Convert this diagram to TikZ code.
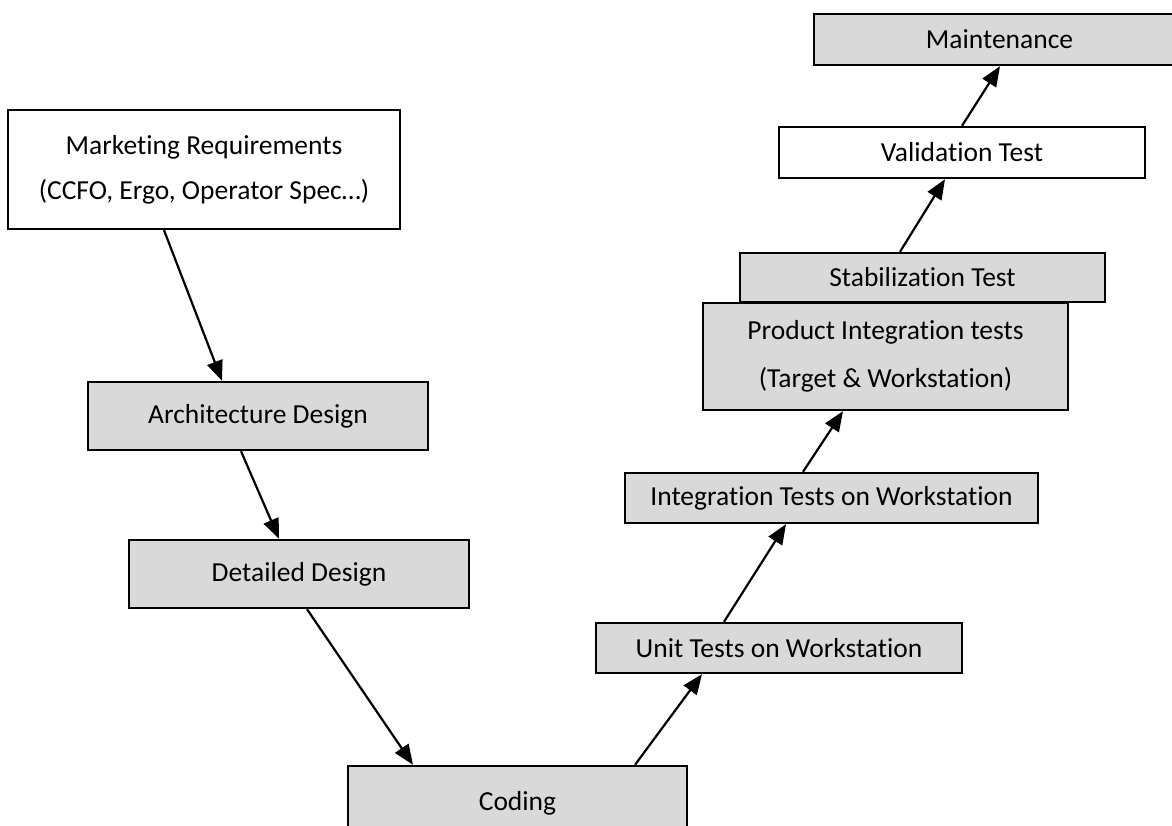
\documentclass[tikz,border=0pt]{standalone}
\usepackage{fontspec}
\setmainfont{Carlito}[RawFeature={-liga;-clig;-calt;-dlig}]
\usetikzlibrary{arrows.meta}
\definecolor{boxgray}{HTML}{D9D9D9}
\newcommand\tIpair{t\kern0pt i}
\tikzset{
  box/.style={draw=black, line width=2.4pt, fill=boxgray, rectangle, inner sep=0pt,
    font=\fontsize{27.5}{45}\selectfont, align=center},
  wbox/.style={box, fill=white},
  conn/.style={draw=black, line width=2.2pt, -{Triangle[length=20pt,width=16pt]}}
}
\begin{document}
\begin{tikzpicture}[x=1pt,y=-1pt]
\useasboundingbox (0,0) rectangle (1172,826);
\fill[white] (0,0) rectangle (1172,826);
\node[wbox, minimum width=392pt, minimum height=119pt] (mkt) at (204,169.5) {Marketing Requirements\\(CCFO, Ergo, Operator Spec…)};
\node[box, minimum width=340pt, minimum height=68pt] (arch) at (258,416) {Architecture Design};
\node[box, minimum width=340pt, minimum height=68pt] (det) at (299,574) {Detailed Design};
\node[box, minimum width=339pt, minimum height=74pt] (cod) at (517.5,803) {Coding};
\node[box, minimum width=366pt, minimum height=50pt] (unit) at (779,648) {Unit Tests on Worksta\tIpair on};
\node[box, minimum width=413pt, minimum height=50pt] (integ) at (831.5,498) {Integra\tIpair on Tests on Worksta\tIpair on};
\node[box, minimum width=365pt, minimum height=49pt] (stab) at (922.5,277.5) {Stabiliza\tIpair on Test};
\node[box, minimum width=365pt, minimum height=107pt, font=\fontsize{27.5}{48}\selectfont] (prod) at (885.5,356.5) {Product Integra\tIpair on tests\\(Target \& Worksta\tIpair on)};
\node[wbox, minimum width=366pt, minimum height=51pt] (val) at (962,152.5) {Valida\tIpair on Test};
\node[box, minimum width=371pt, minimum height=51pt] (mnt) at (999.5,39.5) {Maintenance};

\draw[conn] ([xshift=-40pt]mkt.south) -- ([xshift=-36pt]arch.north);
\draw[conn] ([xshift=-17pt]arch.south) -- ([xshift=-20pt]det.north);
\draw[conn] ([xshift=8pt]det.south) -- ([xshift=-104.5pt]cod.north);
\draw[conn] ([xshift=117.5pt]cod.north) -- ([xshift=-77pt]unit.south);
\draw[conn] ([xshift=-55pt]unit.north) -- ([xshift=-45.5pt]integ.south);
\draw[conn] ([xshift=-28.5pt]integ.north) -- ([xshift=-42.5pt]prod.south);
\draw[conn] ([xshift=-22.5pt]stab.north) -- ([xshift=-17pt]val.south);
\draw[conn] (val.north) -- ([xshift=0.5pt]mnt.south);
\end{tikzpicture}
\end{document}
